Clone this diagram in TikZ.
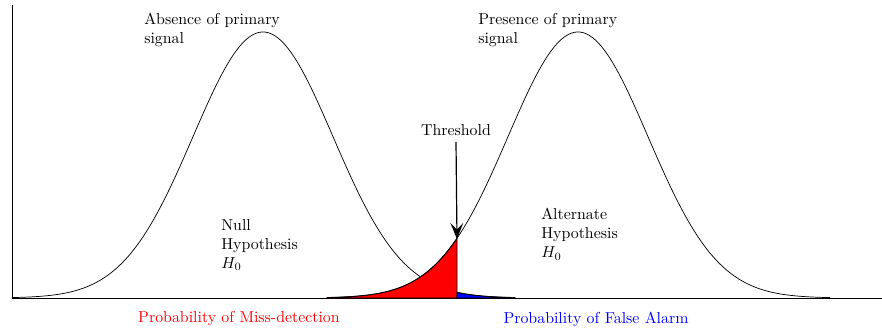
\documentclass[tikz,border=0pt]{standalone}
\usetikzlibrary{arrows.meta}
\begin{document}
\begin{tikzpicture}[x=0.63pt,y=-0.63pt,
  lbl/.style={inner sep=0pt, align=left, anchor=north west, font=\normalsize},
  curve/.style={black, line width=0.45pt},
  area/.style={draw=black, line width=0.6pt}]
\useasboundingbox (0,0) rectangle (882,332);
% axes
\draw[line width=0.6pt] (12,5) -- (12,298) -- (882,298);
% left (null) gaussian
\draw[curve, domain=12:515, samples=160, smooth, variable=\x]
  plot (\x, {298-266*exp(-0.5*((\x-263)/70)*((\x-263)/70))});
% right (alternate) gaussian
\draw[curve, domain=327:830, samples=160, smooth, variable=\x]
  plot (\x, {298-266*exp(-0.5*((\x-578)/70)*((\x-578)/70))});
% miss detection (red) area
\filldraw[area, fill=red] (327,298)
  -- plot[domain=327:457, samples=80, smooth, variable=\x]
     (\x, {298-266*exp(-0.5*((\x-578)/70)*((\x-578)/70))})
  -- (457,298) -- cycle;
% false alarm (blue) area
\filldraw[area, fill=blue] (457,298)
  -- plot[domain=457:515, samples=40, smooth, variable=\x]
     (\x, {298-266*exp(-0.5*((\x-263)/70)*((\x-263)/70))})
  -- (515,298) -- cycle;
% labels
\node[lbl] (abs) at (144,13) {Absence of primary\\signal};
\node[lbl] (pres) at (478,13) {Presence of primary\\signal};
\node[lbl] (null) at (221,219) {Null\\Hypothesis\\$H_0$};
\node[lbl] (alt) at (541,208) {Alternate\\Hypothesis\\$H_0$};
\node[inner sep=0pt] (thr) at (456,130) {Threshold};
\coordinate (tp) at (457,239);
\draw[line width=0.75pt, -{Stealth[length=10pt,width=8pt,inset=4pt]}] (thr.south) ++(0,6) -- (tp);
\node[inner sep=0pt, text=red] (pmd) at (239,319) {Probability of Miss-detection};
\node[inner sep=0pt, text=blue] (pfa) at (596,319) {Probability of False Alarm};
\end{tikzpicture}
\end{document}
